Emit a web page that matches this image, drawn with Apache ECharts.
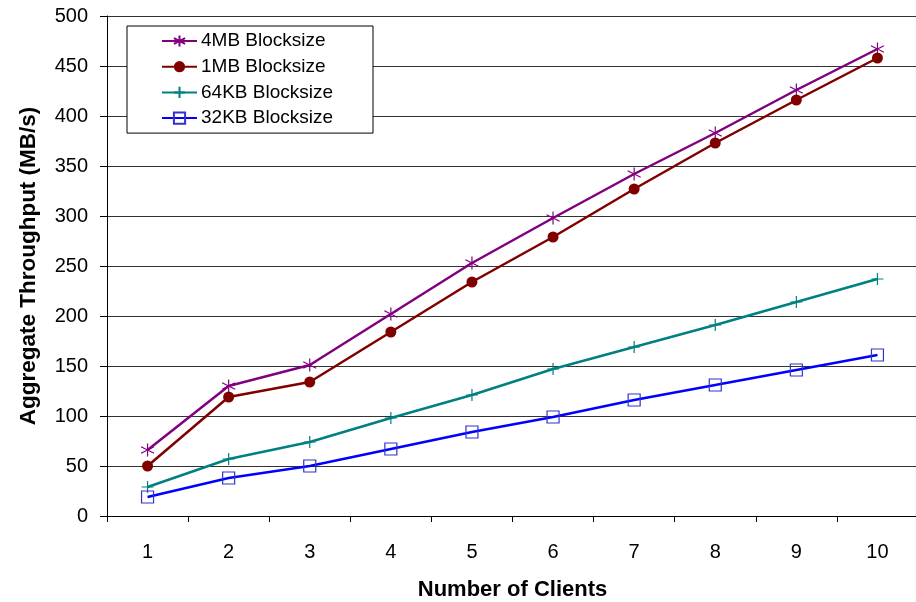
<!DOCTYPE html>
<html><head><meta charset="utf-8">
<script src="https://cdn.jsdelivr.net/npm/echarts@6/dist/echarts.min.js"></script>
<style>html,body{margin:0;padding:0;background:#fff}#c{width:916px;height:602px}</style>
</head><body><div id="c"></div>
<script>
const categories = ['1','2','3','4','5','6','7','8','9','10'];
const s4MB = [66, 130, 151, 202, 253, 298, 342, 383, 426, 467];
const s1MB = [50, 119, 134, 184, 234, 279, 327, 373, 416, 458];
const s64KB = [29, 57, 74, 98, 121, 147, 169, 191, 214, 237];
const s32KB = [19, 38, 50, 67, 84, 99, 116, 131, 146, 161];
const seriesNames = ['4MB Blocksize','1MB Blocksize','64KB Blocksize','32KB Blocksize'];

const FONT = '"Liberation Sans", Arial, sans-serif';
const star = 'path://M0,-1L0,1M-0.87,-0.5L0.87,0.5M-0.87,0.5L0.87,-0.5';
const plus = 'path://M0,-1L0,1M-1,0L1,0';

const chart = echarts.init(document.getElementById('c'));
chart.setOption({
  animation: false,
  backgroundColor: '#fff',
  grid: { left: 107, top: 16, width: 811, height: 500, containLabel: false, outerBoundsMode: 'none' },
  legend: {
    orient: 'vertical', left: 127, top: 26,
    padding: [5, 40, 5, 34],
    borderColor: '#000', borderWidth: 1, backgroundColor: '#fff',
    itemWidth: 35, itemHeight: 14, itemGap: 5.7,
    textStyle: { fontFamily: FONT, fontSize: 19, lineHeight: 20, color: '#000', padding: [0,0,0,-1] },
    data: seriesNames
  },
  xAxis: {
    type: 'category', data: categories, boundaryGap: true,
    name: 'Number of Clients', nameLocation: 'middle', nameGap: 63,
    nameTextStyle: { fontFamily: FONT, fontSize: 22, fontWeight: 'bold', color: '#000' },
    axisLine: { lineStyle: { color: '#000', width: 1 } },
    axisTick: { show: true, length: 6, alignWithLabel: false, lineStyle: { color: '#000' } },
    axisLabel: { fontFamily: FONT, fontSize: 20, color: '#000', margin: 26 },
    splitLine: { show: false }
  },
  yAxis: {
    type: 'value', min: 0, max: 500, interval: 50,
    name: 'Aggregate Throughput (MB/s)', nameLocation: 'middle', nameGap: 67,
    nameTextStyle: { fontFamily: FONT, fontSize: 22.5, fontWeight: 'bold', color: '#000' },
    axisLine: { show: true, lineStyle: { color: '#000', width: 1 } },
    axisTick: { show: true, length: 7, lineStyle: { color: '#000' } },
    axisLabel: { fontFamily: FONT, fontSize: 20, color: '#000', margin: 19 },
    splitLine: { show: true, lineStyle: { color: '#333', width: 1 } }
  },
  series: [
    { name: seriesNames[0], type: 'line', data: s4MB, symbol: star, symbolSize: 13,
      lineStyle: { color: '#800080', width: 2.5 },
      itemStyle: { color: 'rgba(0,0,0,0)', borderColor: '#800080', borderWidth: 1.2 } },
    { name: seriesNames[1], type: 'line', data: s1MB, symbol: 'circle', symbolSize: 11,
      lineStyle: { color: '#800000', width: 2.5 },
      itemStyle: { color: '#800000', borderColor: '#800000', borderWidth: 0 } },
    { name: seriesNames[2], type: 'line', data: s64KB, symbol: plus, symbolSize: 12,
      lineStyle: { color: '#008080', width: 2.5 },
      itemStyle: { color: 'rgba(0,0,0,0)', borderColor: '#008080', borderWidth: 1.2 } },
    { name: seriesNames[3], type: 'line', data: s32KB, symbol: 'rect', symbolSize: 12,
      lineStyle: { color: '#0000ff', width: 2.5 },
      itemStyle: { color: 'rgba(255,255,255,0)', borderColor: '#3333cc', borderWidth: 1.2 } }
  ]
});
</script></body></html>
